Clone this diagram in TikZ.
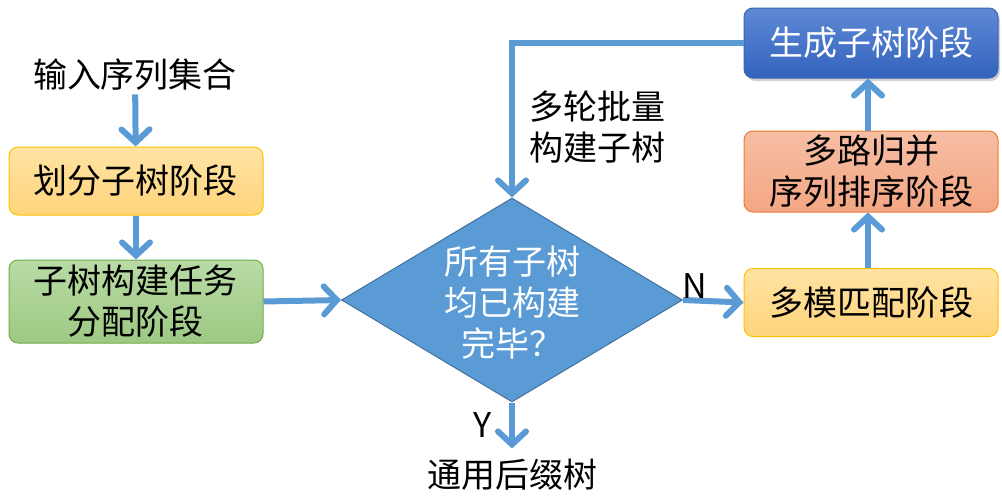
\documentclass[tikz,border=0pt]{standalone}
\usepackage{fontspec}
\setmainfont{Noto Sans CJK SC}
\usetikzlibrary{arrows.meta,shapes.geometric,shadows}
\definecolor{flowblue}{HTML}{5B9BD5}
\definecolor{diaedge}{HTML}{41719C}
\definecolor{yellowtop}{HTML}{FFE3A3}
\definecolor{yellowbot}{HTML}{FFD47C}
\definecolor{yellowedge}{HTML}{FFC000}
\definecolor{greentop}{HTML}{B9DBA5}
\definecolor{greenbot}{HTML}{9DC983}
\definecolor{greenedge}{HTML}{70AD47}
\definecolor{orangetop}{HTML}{F6BEA4}
\definecolor{orangebot}{HTML}{F4A683}
\definecolor{orangeedge}{HTML}{ED7D31}
\definecolor{bluetop}{HTML}{5F89D6}
\definecolor{bluebot}{HTML}{3363BD}
\definecolor{blueedge}{HTML}{3A66B5}
\begin{document}
\begin{tikzpicture}[
        x=1pt, y=-1pt,
        font=\fontsize{34}{41}\selectfont,
        stage/.style={draw, rounded corners=9pt, minimum width=254pt, minimum height=68pt,
            align=center, inner sep=2pt, line width=1pt},
        yellowstage/.style={stage, draw=yellowedge, top color=yellowtop, bottom color=yellowbot},
        greenstage/.style={stage, draw=greenedge, top color=greentop, bottom color=greenbot},
        orangestage/.style={stage, draw=orangeedge, top color=orangetop, bottom color=orangebot},
        bluestage/.style={stage, draw=blueedge, top color=bluetop, bottom color=bluebot, text=white,
            drop shadow={opacity=0.35, shadow xshift=2pt, shadow yshift=-3pt}},
        flow/.style={draw=flowblue, line width=6pt,
            -{Straight Barb[length=13pt, width=28pt, line width=6pt, line cap=round]}},
    ]
    \useasboundingbox (0,0) rectangle (1002,498);
    \node (input) at (135,75) {输入序列集合};
    \node[yellowstage] (split) at (136,181) {划分子树阶段};
    \node[greenstage, minimum height=83pt] (assign) at (136,301.5) {子树构建任务\\分配阶段};
    \node[shape=diamond, draw=diaedge, fill=flowblue, line width=1pt,
        minimum width=341pt, minimum height=204pt, inner sep=0pt] (check) at (512,300) {};
    \node[text=white, align=center] (checktext) at (512,303) {所有子树\\均已构建\\完毕？};
    \node (suffix) at (512,475) {通用后缀树};
    \node[yellowstage] (match) at (871,302.5) {多模匹配阶段};
    \node[orangestage, minimum height=81pt] (merge) at (871,171.5) {多路归并\\序列排序阶段};
    \node[bluestage, minimum height=70pt] (gen) at (871,43) {生成子树阶段};
    \node[anchor=west, align=left] (loop) at (526,127) {多轮批量\\构建子树};
    \coordinate (corner) at (512,43);
    % connectors
    \draw[flow] (input) -- (split);
    \draw[flow] (split) -- (assign);
    \draw[flow] (assign.east) -- (check.west);
    \draw[flow] (check.south) -- node[pos=0.5, left=14pt, black] {Y} ++(0,46) coordinate (yend);
    \draw[flow] (check.east) -- node[above=-4pt, pos=0.2, black] {N} (match.west);
    \draw[flow] (match.north -| 868,0) -- (merge.south -| 868,0);
    \draw[flow] (merge.north -| 868,0) -- (gen.south -| 868,0);
    \draw[flow] (gen.west) -- (corner) -- (check.north);
\end{tikzpicture}
\end{document}
